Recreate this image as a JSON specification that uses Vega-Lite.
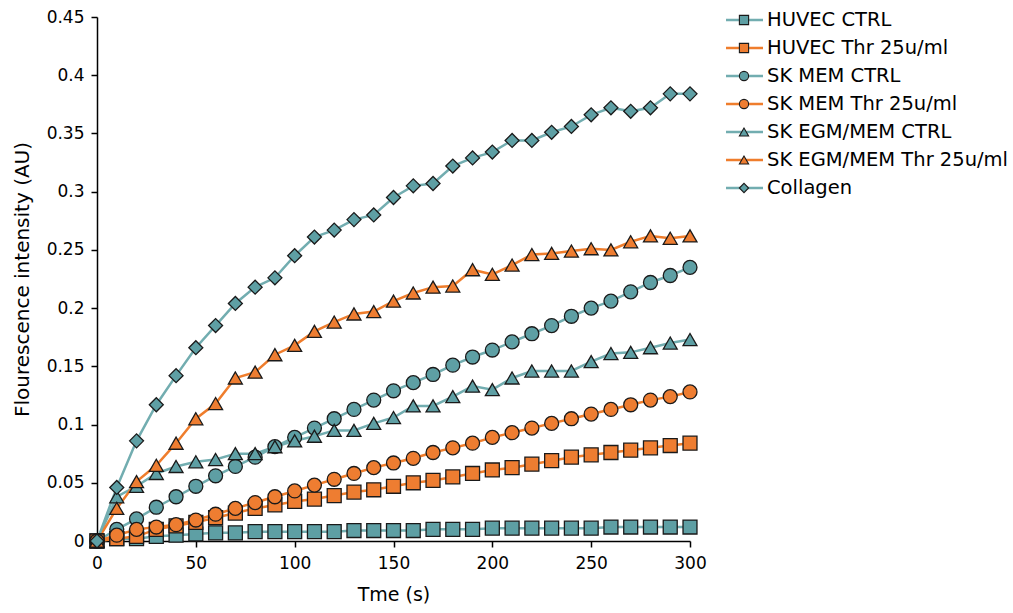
{
"$schema": "https://vega.github.io/schema/vega-lite/v6.json",
"padding": {"left": 12, "top": 8, "right": 0, "bottom": 0},
"background": "white",
"spacing": 17,
"config": {"view": {"stroke": null}, "font": "DejaVu Sans",
 "axis": {"grid": false, "domainColor": "#000", "domainWidth": 1.5, "tickColor": "#000", "tickWidth": 1.5, "tickSize": 6, "labelFont": "DejaVu Sans", "labelFontSize": 17, "labelColor": "#000", "titleFont": "DejaVu Sans", "titleFontWeight": "normal", "titleColor": "#000", "labelFlush": false, "labelOverlap": false}},
"datasets": {
"curves": [
{"s":"HUVEC CTRL","t":0,"v":0},{"s":"HUVEC CTRL","t":10,"v":0.002},{"s":"HUVEC CTRL","t":20,"v":0.002},{"s":"HUVEC CTRL","t":30,"v":0.004},{"s":"HUVEC CTRL","t":40,"v":0.005},{"s":"HUVEC CTRL","t":50,"v":0.006},{"s":"HUVEC CTRL","t":60,"v":0.007},{"s":"HUVEC CTRL","t":70,"v":0.007},{"s":"HUVEC CTRL","t":80,"v":0.008},{"s":"HUVEC CTRL","t":90,"v":0.008},{"s":"HUVEC CTRL","t":100,"v":0.008},{"s":"HUVEC CTRL","t":110,"v":0.008},{"s":"HUVEC CTRL","t":120,"v":0.008},{"s":"HUVEC CTRL","t":130,"v":0.009},{"s":"HUVEC CTRL","t":140,"v":0.009},{"s":"HUVEC CTRL","t":150,"v":0.009},{"s":"HUVEC CTRL","t":160,"v":0.009},{"s":"HUVEC CTRL","t":170,"v":0.010},{"s":"HUVEC CTRL","t":180,"v":0.010},{"s":"HUVEC CTRL","t":190,"v":0.010},{"s":"HUVEC CTRL","t":200,"v":0.011},{"s":"HUVEC CTRL","t":210,"v":0.011},{"s":"HUVEC CTRL","t":220,"v":0.011},{"s":"HUVEC CTRL","t":230,"v":0.011},{"s":"HUVEC CTRL","t":240,"v":0.011},{"s":"HUVEC CTRL","t":250,"v":0.011},{"s":"HUVEC CTRL","t":260,"v":0.012},{"s":"HUVEC CTRL","t":270,"v":0.012},{"s":"HUVEC CTRL","t":280,"v":0.012},{"s":"HUVEC CTRL","t":290,"v":0.012},{"s":"HUVEC CTRL","t":300,"v":0.012},
{"s":"HUVEC Thr 25u/ml","t":0,"v":0},{"s":"HUVEC Thr 25u/ml","t":10,"v":0.002},{"s":"HUVEC Thr 25u/ml","t":20,"v":0.004},{"s":"HUVEC Thr 25u/ml","t":30,"v":0.010},{"s":"HUVEC Thr 25u/ml","t":40,"v":0.013},{"s":"HUVEC Thr 25u/ml","t":50,"v":0.016},{"s":"HUVEC Thr 25u/ml","t":60,"v":0.020},{"s":"HUVEC Thr 25u/ml","t":70,"v":0.024},{"s":"HUVEC Thr 25u/ml","t":80,"v":0.028},{"s":"HUVEC Thr 25u/ml","t":90,"v":0.031},{"s":"HUVEC Thr 25u/ml","t":100,"v":0.034},{"s":"HUVEC Thr 25u/ml","t":110,"v":0.036},{"s":"HUVEC Thr 25u/ml","t":120,"v":0.039},{"s":"HUVEC Thr 25u/ml","t":130,"v":0.042},{"s":"HUVEC Thr 25u/ml","t":140,"v":0.044},{"s":"HUVEC Thr 25u/ml","t":150,"v":0.047},{"s":"HUVEC Thr 25u/ml","t":160,"v":0.050},{"s":"HUVEC Thr 25u/ml","t":170,"v":0.052},{"s":"HUVEC Thr 25u/ml","t":180,"v":0.055},{"s":"HUVEC Thr 25u/ml","t":190,"v":0.058},{"s":"HUVEC Thr 25u/ml","t":200,"v":0.061},{"s":"HUVEC Thr 25u/ml","t":210,"v":0.063},{"s":"HUVEC Thr 25u/ml","t":220,"v":0.066},{"s":"HUVEC Thr 25u/ml","t":230,"v":0.069},{"s":"HUVEC Thr 25u/ml","t":240,"v":0.072},{"s":"HUVEC Thr 25u/ml","t":250,"v":0.074},{"s":"HUVEC Thr 25u/ml","t":260,"v":0.076},{"s":"HUVEC Thr 25u/ml","t":270,"v":0.078},{"s":"HUVEC Thr 25u/ml","t":280,"v":0.080},{"s":"HUVEC Thr 25u/ml","t":290,"v":0.082},{"s":"HUVEC Thr 25u/ml","t":300,"v":0.084},
{"s":"SK MEM CTRL","t":0,"v":0},{"s":"SK MEM CTRL","t":10,"v":0.010},{"s":"SK MEM CTRL","t":20,"v":0.019},{"s":"SK MEM CTRL","t":30,"v":0.029},{"s":"SK MEM CTRL","t":40,"v":0.038},{"s":"SK MEM CTRL","t":50,"v":0.047},{"s":"SK MEM CTRL","t":60,"v":0.056},{"s":"SK MEM CTRL","t":70,"v":0.064},{"s":"SK MEM CTRL","t":80,"v":0.072},{"s":"SK MEM CTRL","t":90,"v":0.081},{"s":"SK MEM CTRL","t":100,"v":0.089},{"s":"SK MEM CTRL","t":110,"v":0.097},{"s":"SK MEM CTRL","t":120,"v":0.105},{"s":"SK MEM CTRL","t":130,"v":0.113},{"s":"SK MEM CTRL","t":140,"v":0.121},{"s":"SK MEM CTRL","t":150,"v":0.129},{"s":"SK MEM CTRL","t":160,"v":0.136},{"s":"SK MEM CTRL","t":170,"v":0.143},{"s":"SK MEM CTRL","t":180,"v":0.151},{"s":"SK MEM CTRL","t":190,"v":0.158},{"s":"SK MEM CTRL","t":200,"v":0.164},{"s":"SK MEM CTRL","t":210,"v":0.171},{"s":"SK MEM CTRL","t":220,"v":0.178},{"s":"SK MEM CTRL","t":230,"v":0.185},{"s":"SK MEM CTRL","t":240,"v":0.193},{"s":"SK MEM CTRL","t":250,"v":0.200},{"s":"SK MEM CTRL","t":260,"v":0.206},{"s":"SK MEM CTRL","t":270,"v":0.214},{"s":"SK MEM CTRL","t":280,"v":0.222},{"s":"SK MEM CTRL","t":290,"v":0.228},{"s":"SK MEM CTRL","t":300,"v":0.235},
{"s":"SK MEM Thr 25u/ml","t":0,"v":0},{"s":"SK MEM Thr 25u/ml","t":10,"v":0.005},{"s":"SK MEM Thr 25u/ml","t":20,"v":0.010},{"s":"SK MEM Thr 25u/ml","t":30,"v":0.012},{"s":"SK MEM Thr 25u/ml","t":40,"v":0.014},{"s":"SK MEM Thr 25u/ml","t":50,"v":0.018},{"s":"SK MEM Thr 25u/ml","t":60,"v":0.023},{"s":"SK MEM Thr 25u/ml","t":70,"v":0.028},{"s":"SK MEM Thr 25u/ml","t":80,"v":0.033},{"s":"SK MEM Thr 25u/ml","t":90,"v":0.038},{"s":"SK MEM Thr 25u/ml","t":100,"v":0.043},{"s":"SK MEM Thr 25u/ml","t":110,"v":0.048},{"s":"SK MEM Thr 25u/ml","t":120,"v":0.053},{"s":"SK MEM Thr 25u/ml","t":130,"v":0.058},{"s":"SK MEM Thr 25u/ml","t":140,"v":0.063},{"s":"SK MEM Thr 25u/ml","t":150,"v":0.067},{"s":"SK MEM Thr 25u/ml","t":160,"v":0.071},{"s":"SK MEM Thr 25u/ml","t":170,"v":0.076},{"s":"SK MEM Thr 25u/ml","t":180,"v":0.080},{"s":"SK MEM Thr 25u/ml","t":190,"v":0.084},{"s":"SK MEM Thr 25u/ml","t":200,"v":0.089},{"s":"SK MEM Thr 25u/ml","t":210,"v":0.093},{"s":"SK MEM Thr 25u/ml","t":220,"v":0.097},{"s":"SK MEM Thr 25u/ml","t":230,"v":0.101},{"s":"SK MEM Thr 25u/ml","t":240,"v":0.105},{"s":"SK MEM Thr 25u/ml","t":250,"v":0.109},{"s":"SK MEM Thr 25u/ml","t":260,"v":0.113},{"s":"SK MEM Thr 25u/ml","t":270,"v":0.117},{"s":"SK MEM Thr 25u/ml","t":280,"v":0.121},{"s":"SK MEM Thr 25u/ml","t":290,"v":0.124},{"s":"SK MEM Thr 25u/ml","t":300,"v":0.128},
{"s":"SK EGM/MEM CTRL","t":0,"v":0},{"s":"SK EGM/MEM CTRL","t":10,"v":0.038},{"s":"SK EGM/MEM CTRL","t":20,"v":0.047},{"s":"SK EGM/MEM CTRL","t":30,"v":0.058},{"s":"SK EGM/MEM CTRL","t":40,"v":0.064},{"s":"SK EGM/MEM CTRL","t":50,"v":0.068},{"s":"SK EGM/MEM CTRL","t":60,"v":0.070},{"s":"SK EGM/MEM CTRL","t":70,"v":0.075},{"s":"SK EGM/MEM CTRL","t":80,"v":0.075},{"s":"SK EGM/MEM CTRL","t":90,"v":0.081},{"s":"SK EGM/MEM CTRL","t":100,"v":0.086},{"s":"SK EGM/MEM CTRL","t":110,"v":0.090},{"s":"SK EGM/MEM CTRL","t":120,"v":0.095},{"s":"SK EGM/MEM CTRL","t":130,"v":0.095},{"s":"SK EGM/MEM CTRL","t":140,"v":0.101},{"s":"SK EGM/MEM CTRL","t":150,"v":0.106},{"s":"SK EGM/MEM CTRL","t":160,"v":0.116},{"s":"SK EGM/MEM CTRL","t":170,"v":0.116},{"s":"SK EGM/MEM CTRL","t":180,"v":0.124},{"s":"SK EGM/MEM CTRL","t":190,"v":0.133},{"s":"SK EGM/MEM CTRL","t":200,"v":0.130},{"s":"SK EGM/MEM CTRL","t":210,"v":0.140},{"s":"SK EGM/MEM CTRL","t":220,"v":0.146},{"s":"SK EGM/MEM CTRL","t":230,"v":0.146},{"s":"SK EGM/MEM CTRL","t":240,"v":0.146},{"s":"SK EGM/MEM CTRL","t":250,"v":0.154},{"s":"SK EGM/MEM CTRL","t":260,"v":0.161},{"s":"SK EGM/MEM CTRL","t":270,"v":0.162},{"s":"SK EGM/MEM CTRL","t":280,"v":0.166},{"s":"SK EGM/MEM CTRL","t":290,"v":0.170},{"s":"SK EGM/MEM CTRL","t":300,"v":0.173},
{"s":"SK EGM/MEM Thr 25u/ml","t":0,"v":0},{"s":"SK EGM/MEM Thr 25u/ml","t":10,"v":0.028},{"s":"SK EGM/MEM Thr 25u/ml","t":20,"v":0.051},{"s":"SK EGM/MEM Thr 25u/ml","t":30,"v":0.065},{"s":"SK EGM/MEM Thr 25u/ml","t":40,"v":0.084},{"s":"SK EGM/MEM Thr 25u/ml","t":50,"v":0.105},{"s":"SK EGM/MEM Thr 25u/ml","t":60,"v":0.118},{"s":"SK EGM/MEM Thr 25u/ml","t":70,"v":0.140},{"s":"SK EGM/MEM Thr 25u/ml","t":80,"v":0.145},{"s":"SK EGM/MEM Thr 25u/ml","t":90,"v":0.160},{"s":"SK EGM/MEM Thr 25u/ml","t":100,"v":0.168},{"s":"SK EGM/MEM Thr 25u/ml","t":110,"v":0.180},{"s":"SK EGM/MEM Thr 25u/ml","t":120,"v":0.188},{"s":"SK EGM/MEM Thr 25u/ml","t":130,"v":0.195},{"s":"SK EGM/MEM Thr 25u/ml","t":140,"v":0.197},{"s":"SK EGM/MEM Thr 25u/ml","t":150,"v":0.206},{"s":"SK EGM/MEM Thr 25u/ml","t":160,"v":0.213},{"s":"SK EGM/MEM Thr 25u/ml","t":170,"v":0.218},{"s":"SK EGM/MEM Thr 25u/ml","t":180,"v":0.219},{"s":"SK EGM/MEM Thr 25u/ml","t":190,"v":0.233},{"s":"SK EGM/MEM Thr 25u/ml","t":200,"v":0.229},{"s":"SK EGM/MEM Thr 25u/ml","t":210,"v":0.237},{"s":"SK EGM/MEM Thr 25u/ml","t":220,"v":0.246},{"s":"SK EGM/MEM Thr 25u/ml","t":230,"v":0.247},{"s":"SK EGM/MEM Thr 25u/ml","t":240,"v":0.249},{"s":"SK EGM/MEM Thr 25u/ml","t":250,"v":0.251},{"s":"SK EGM/MEM Thr 25u/ml","t":260,"v":0.250},{"s":"SK EGM/MEM Thr 25u/ml","t":270,"v":0.257},{"s":"SK EGM/MEM Thr 25u/ml","t":280,"v":0.262},{"s":"SK EGM/MEM Thr 25u/ml","t":290,"v":0.260},{"s":"SK EGM/MEM Thr 25u/ml","t":300,"v":0.262},
{"s":"Collagen","t":0,"v":0},{"s":"Collagen","t":10,"v":0.046},{"s":"Collagen","t":20,"v":0.086},{"s":"Collagen","t":30,"v":0.117},{"s":"Collagen","t":40,"v":0.142},{"s":"Collagen","t":50,"v":0.166},{"s":"Collagen","t":60,"v":0.185},{"s":"Collagen","t":70,"v":0.204},{"s":"Collagen","t":80,"v":0.218},{"s":"Collagen","t":90,"v":0.226},{"s":"Collagen","t":100,"v":0.245},{"s":"Collagen","t":110,"v":0.261},{"s":"Collagen","t":120,"v":0.267},{"s":"Collagen","t":130,"v":0.276},{"s":"Collagen","t":140,"v":0.280},{"s":"Collagen","t":150,"v":0.295},{"s":"Collagen","t":160,"v":0.305},{"s":"Collagen","t":170,"v":0.307},{"s":"Collagen","t":180,"v":0.322},{"s":"Collagen","t":190,"v":0.329},{"s":"Collagen","t":200,"v":0.334},{"s":"Collagen","t":210,"v":0.344},{"s":"Collagen","t":220,"v":0.344},{"s":"Collagen","t":230,"v":0.351},{"s":"Collagen","t":240,"v":0.356},{"s":"Collagen","t":250,"v":0.366},{"s":"Collagen","t":260,"v":0.372},{"s":"Collagen","t":270,"v":0.369},{"s":"Collagen","t":280,"v":0.372},{"s":"Collagen","t":290,"v":0.384},{"s":"Collagen","t":300,"v":0.384}
],
"legend": [{"s":"HUVEC CTRL"},{"s":"HUVEC Thr 25u/ml"},{"s":"SK MEM CTRL"},{"s":"SK MEM Thr 25u/ml"},{"s":"SK EGM/MEM CTRL"},{"s":"SK EGM/MEM Thr 25u/ml"},{"s":"Collagen"}]
},
"hconcat": [
{
 "width": 593, "height": 524,
 "data": {"name": "curves"},
 "encoding": {
  "x": {"field": "t", "type": "quantitative", "scale": {"domain": [0, 300], "nice": false}, "axis": {"title": "Tme (s)", "titleFontSize": 19, "values": [0,50,100,150,200,250,300], "labelPadding": 8, "titlePadding": 14}},
  "y": {"field": "v", "type": "quantitative", "scale": {"domain": [0, 0.45], "nice": false}, "axis": {"title": "Flourescence intensity (AU)", "titleFontSize": 20, "values": [0,0.05,0.1,0.15,0.2,0.25,0.3,0.35,0.4,0.45], "format": "~g", "labelPadding": 7, "titlePadding": 14}}
 },
 "layer": [
  {"mark": {"type": "line", "strokeWidth": 2.5},
   "encoding": {"stroke": {"field": "s", "type": "nominal", "legend": null, "scale": {"domain": ["HUVEC CTRL","HUVEC Thr 25u/ml","SK MEM CTRL","SK MEM Thr 25u/ml","SK EGM/MEM CTRL","SK EGM/MEM Thr 25u/ml","Collagen"], "range": ["#72adb0","#ef7d2c","#72adb0","#ef7d2c","#72adb0","#ef7d2c","#72adb0"]}}}},
  {"mark": {"type": "point", "filled": true, "size": 195, "stroke": "#1a1a1a", "strokeWidth": 1.3, "opacity": 1},
   "encoding": {
    "fill": {"field": "s", "type": "nominal", "legend": null, "scale": {"domain": ["HUVEC CTRL","HUVEC Thr 25u/ml","SK MEM CTRL","SK MEM Thr 25u/ml","SK EGM/MEM CTRL","SK EGM/MEM Thr 25u/ml","Collagen"], "range": ["#5e9fa4","#ee7d31","#5e9fa4","#ee7d31","#5e9fa4","#ee7d31","#5e9fa4"]}},
    "shape": {"field": "s", "type": "nominal", "legend": null, "scale": {"domain": ["HUVEC CTRL","HUVEC Thr 25u/ml","SK MEM CTRL","SK MEM Thr 25u/ml","SK EGM/MEM CTRL","SK EGM/MEM Thr 25u/ml","Collagen"], "range": ["square","square","circle","circle","triangle-up","triangle-up","diamond"]}}
   }}
 ]
},
{
 "width": 280, "height": 200,
 "data": {"name": "legend"},
 "encoding": {
  "y": {"field": "s", "type": "nominal", "axis": null, "scale": {"type": "point", "padding": 0, "domain": ["HUVEC CTRL","HUVEC Thr 25u/ml","SK MEM CTRL","SK MEM Thr 25u/ml","SK EGM/MEM CTRL","SK EGM/MEM Thr 25u/ml","Collagen"], "range": [3, 171]}}
 },
 "layer": [
  {"mark": {"type": "rule", "strokeWidth": 2.5},
   "encoding": {
    "x": {"datum": 0, "type": "quantitative", "axis": null, "scale": {"domain": [0, 280], "nice": false}},
    "x2": {"datum": 37},
    "stroke": {"field": "s", "type": "nominal", "legend": null, "scale": {"domain": ["HUVEC CTRL","HUVEC Thr 25u/ml","SK MEM CTRL","SK MEM Thr 25u/ml","SK EGM/MEM CTRL","SK EGM/MEM Thr 25u/ml","Collagen"], "range": ["#72adb0","#ef7d2c","#72adb0","#ef7d2c","#72adb0","#ef7d2c","#72adb0"]}}
   }},
  {"mark": {"type": "point", "filled": true, "size": 85, "stroke": "#1a1a1a", "strokeWidth": 1.1, "opacity": 1},
   "encoding": {
    "x": {"datum": 18, "type": "quantitative", "axis": null, "scale": {"domain": [0, 280], "nice": false}},
    "fill": {"field": "s", "type": "nominal", "legend": null, "scale": {"domain": ["HUVEC CTRL","HUVEC Thr 25u/ml","SK MEM CTRL","SK MEM Thr 25u/ml","SK EGM/MEM CTRL","SK EGM/MEM Thr 25u/ml","Collagen"], "range": ["#5e9fa4","#ee7d31","#5e9fa4","#ee7d31","#5e9fa4","#ee7d31","#5e9fa4"]}},
    "shape": {"field": "s", "type": "nominal", "legend": null, "scale": {"domain": ["HUVEC CTRL","HUVEC Thr 25u/ml","SK MEM CTRL","SK MEM Thr 25u/ml","SK EGM/MEM CTRL","SK EGM/MEM Thr 25u/ml","Collagen"], "range": ["square","square","circle","circle","triangle-up","triangle-up","diamond"]}}
   }},
  {"mark": {"type": "text", "align": "left", "baseline": "middle", "fontSize": 19.5, "font": "DejaVu Sans", "color": "#000"},
   "encoding": {
    "x": {"datum": 41, "type": "quantitative", "axis": null, "scale": {"domain": [0, 280], "nice": false}},
    "text": {"field": "s", "type": "nominal"}
   }}
 ]
}
]
}
